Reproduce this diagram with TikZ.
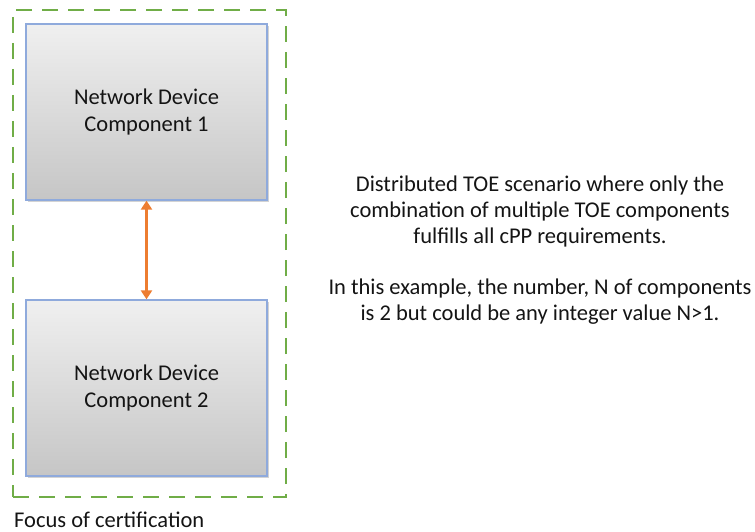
\documentclass[tikz,border=0pt]{standalone}
\usepackage{fontspec}
\setmainfont{Carlito}
\usetikzlibrary{shadows,arrows.meta}
\definecolor{focusgreen}{RGB}{112,173,71}
\definecolor{arroworange}{RGB}{237,125,49}
\definecolor{boxblue}{RGB}{143,170,220}
\definecolor{txt}{RGB}{20,20,20}
\begin{document}
\begin{tikzpicture}[x=1pt,y=-1pt,
  compbox/.style={draw=boxblue, line width=1.3pt, top color=gray!12, bottom color=gray!45,
    minimum width=241pt, minimum height=176pt, align=center, inner sep=0pt,
    font=\fontsize{22.5}{27.5}\selectfont, text=txt,
    drop shadow={shadow xshift=2pt, shadow yshift=-2pt, opacity=0.35}},
  focus/.style={draw=focusgreen, line width=2.5pt, dash pattern=on 16pt off 10pt},
  link/.style={draw=arroworange, line width=2.5pt, {Triangle[width=11pt,length=9pt]}-{Triangle[width=11pt,length=9pt]}},
  note/.style={align=center, font=\fontsize{22.5}{26}\selectfont, text=txt, inner sep=0pt}]
\useasboundingbox (0,0) rectangle (755,532);
\node[focus, minimum width=273pt, minimum height=487pt, inner sep=0pt] (focus) at (149.5,253.5) {};
\node[compbox] (c1) at (146.5,112) {Network Device\\Component 1};
\node[compbox] (c2) at (146.5,388) {Network Device\\Component 2};
\draw[link] (c1.south) -- (c2.north);
\node[anchor=base west, font=\fontsize{22.5}{26}\selectfont, text=txt, inner sep=0pt] (lbl) at (14,527) {Focus of certification};
\node[note] (n1) at (540,212) {Distributed TOE scenario where only the\\combination of multiple TOE components\\fulfills all cPP requirements.};
\node[note] (n2) at (540,302) {In this example, the number, N of components\\is 2 but could be any integer value N>1.};
\end{tikzpicture}
\end{document}
